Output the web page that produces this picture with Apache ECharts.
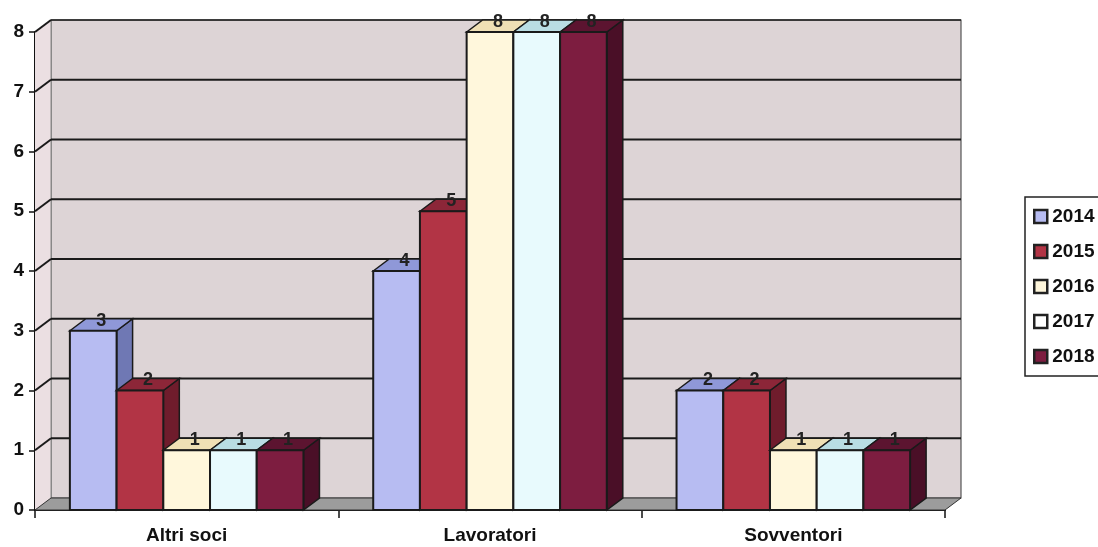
<!DOCTYPE html>
<html>
<head>
<meta charset="utf-8">
<script src="https://cdn.jsdelivr.net/npm/echarts@6/dist/echarts.min.js"></script>
<style>
html,body{margin:0;padding:0;background:#fff;}
#c{width:1098px;height:547px;}
</style>
</head>
<body>
<div id="c"></div>
<script>
var categories = ['Altri soci', 'Lavoratori', 'Sovventori'];
var years = ['2014', '2015', '2016', '2017', '2018'];
var v2014 = [3, 4, 2];
var v2015 = [2, 5, 2];
var v2016 = [1, 8, 1];
var v2017 = [1, 8, 1];
var v2018 = [1, 8, 1];
var yTicks = [0, 1, 2, 3, 4, 5, 6, 7, 8];

var seriesValues = [v2014, v2015, v2016, v2017, v2018];
var faceColors = [
  {front: '#b7bcf2', top: '#8f98d8', side: '#6f78b4', legend: '#b7bcf2'},
  {front: '#b23445', top: '#8c2638', side: '#6f1c2c', legend: '#b23445'},
  {front: '#fff7dc', top: '#efe0b5', side: '#d6c79c', legend: '#fff7dc'},
  {front: '#e8fafd', top: '#b9dde3', side: '#a3c4cb', legend: '#ffffff'},
  {front: '#7d1d40', top: '#5c1430', side: '#4a0f27', legend: '#7d1d40'}
];
var DX = 16, DY = -12;
var FONT = '"Liberation Sans", Arial, sans-serif';

var chart = echarts.init(document.getElementById('c'), null, {renderer: 'canvas'});

function wallsRender(params, api) {
  var cs = params.coordSys;
  var x0 = cs.x, x1 = cs.x + cs.width;
  var yB = api.coord([0, 0])[1];
  var yT = api.coord([0, yTicks[yTicks.length - 1]])[1];
  var children = [];
  children.push({type: 'polygon', shape: {points: [[x0 + DX, yT + DY], [x1 + DX, yT + DY], [x1 + DX, yB + DY], [x0 + DX, yB + DY]]},
    style: {fill: '#ddd4d6', stroke: '#555', lineWidth: 1.2}});
  children.push({type: 'polygon', shape: {points: [[x0, yB], [x0, yT], [x0 + DX, yT + DY], [x0 + DX, yB + DY]]},
    style: {fill: '#ebdfe2', stroke: null}});
  children.push({type: 'line', shape: {x1: x0 + DX, y1: yT + DY, x2: x0 + DX, y2: yB + DY}, style: {stroke: '#888', lineWidth: 1}});
  children.push({type: 'polygon', shape: {points: [[x0, yB], [x1, yB], [x1 + DX, yB + DY], [x0 + DX, yB + DY]]},
    style: {fill: '#9c9c9c', stroke: '#333', lineWidth: 1}});
  for (var i = 1; i < yTicks.length; i++) {
    var y = api.coord([0, yTicks[i]])[1];
    children.push({type: 'line', shape: {x1: x0, y1: y, x2: x0 + DX, y2: y + DY}, style: {stroke: '#1a1a1a', lineWidth: 2}});
    children.push({type: 'line', shape: {x1: x0 + DX, y1: y + DY, x2: x1 + DX, y2: y + DY}, style: {stroke: '#1a1a1a', lineWidth: i === yTicks.length - 1 ? 1.5 : 2}});
  }
  return {type: 'group', children: children};
}

function makeBarRender(si) {
  return function (params, api) {
    var cat = api.value(0), val = api.value(1);
    var base = api.coord([cat, 0]);
    var topY = api.coord([cat, val])[1];
    var band = api.size([1, 0])[0];
    var bw = band * 0.154;
    var left = base[0] - 2.5 * bw + si * bw;
    var yB = base[1];
    var c = faceColors[si];
    var stroke = '#1a1a1a';
    return {type: 'group', children: [
      {type: 'polygon', z2: 1, shape: {points: [[left + bw, topY], [left + bw + DX, topY + DY], [left + bw + DX, yB + DY], [left + bw, yB]]},
        style: {fill: c.side, stroke: stroke, lineWidth: 1.5}},
      {type: 'polygon', z2: 1, shape: {points: [[left, topY], [left + DX, topY + DY], [left + bw + DX, topY + DY], [left + bw, topY]]},
        style: {fill: c.top, stroke: stroke, lineWidth: 1.5}},
      {type: 'rect', z2: 1, shape: {x: left, y: topY, width: bw, height: yB - topY},
        style: {fill: c.front, stroke: stroke, lineWidth: 2}},
      {type: 'text', z2: 100, x: left + bw / 2 + DX / 2, y: topY - 10,
        style: {text: String(val), fill: '#222', font: 'bold 18px ' + FONT, textAlign: 'center', textVerticalAlign: 'middle'}}
    ]};
  };
}

var series = [{
  type: 'custom', name: 'walls', silent: true, z: 1,
  renderItem: wallsRender, data: [[0, 0]], encode: {x: 0, y: 1}
}];
for (var s = 0; s < years.length; s++) {
  var d = [];
  for (var k = 0; k < categories.length; k++) d.push([k, seriesValues[s][k]]);
  series.push({
    type: 'custom', name: years[s], z: 5,
    renderItem: makeBarRender(s), data: d, encode: {x: 0, y: 1},
    itemStyle: {color: faceColors[s].front, borderColor: '#222', borderWidth: 1.5}
  });
}

chart.setOption({
  backgroundColor: '#fff',
  animation: false,
  grid: {left: 35, right: 153, top: 32, bottom: 37, containLabel: false},
  legend: {
    orient: 'vertical', left: 1025, top: 197,
    data: years.map(function (y, i) { return {name: y, itemStyle: {color: faceColors[i].legend, borderColor: '#222', borderWidth: 2.5}}; }),
    icon: 'rect', itemWidth: 13, itemHeight: 13, itemGap: 16,
    borderColor: '#222', borderWidth: 1.5, padding: [10, 30, 10, 8],
    textStyle: {fontFamily: FONT, fontWeight: 'bold', fontSize: 19, color: '#111', lineHeight: 19}
  },
  xAxis: {
    type: 'category', data: categories, boundaryGap: true,
    axisLine: {show: true, lineStyle: {color: '#111', width: 2}},
    axisTick: {show: true, alignWithLabel: false, length: 8, lineStyle: {color: '#111', width: 1.5}},
    axisLabel: {fontFamily: FONT, fontWeight: 'bold', fontSize: 19, color: '#111', margin: 16},
    splitLine: {show: false}
  },
  yAxis: {
    type: 'value', min: 0, max: 8, interval: 1,
    axisLine: {show: true, lineStyle: {color: '#111', width: 2}},
    axisTick: {show: true, length: 6, lineStyle: {color: '#111', width: 1.5}},
    axisLabel: {fontFamily: FONT, fontWeight: 'bold', fontSize: 19, color: '#111', margin: 11},
    splitLine: {show: false}
  },
  series: series
});
</script>
</body>
</html>
